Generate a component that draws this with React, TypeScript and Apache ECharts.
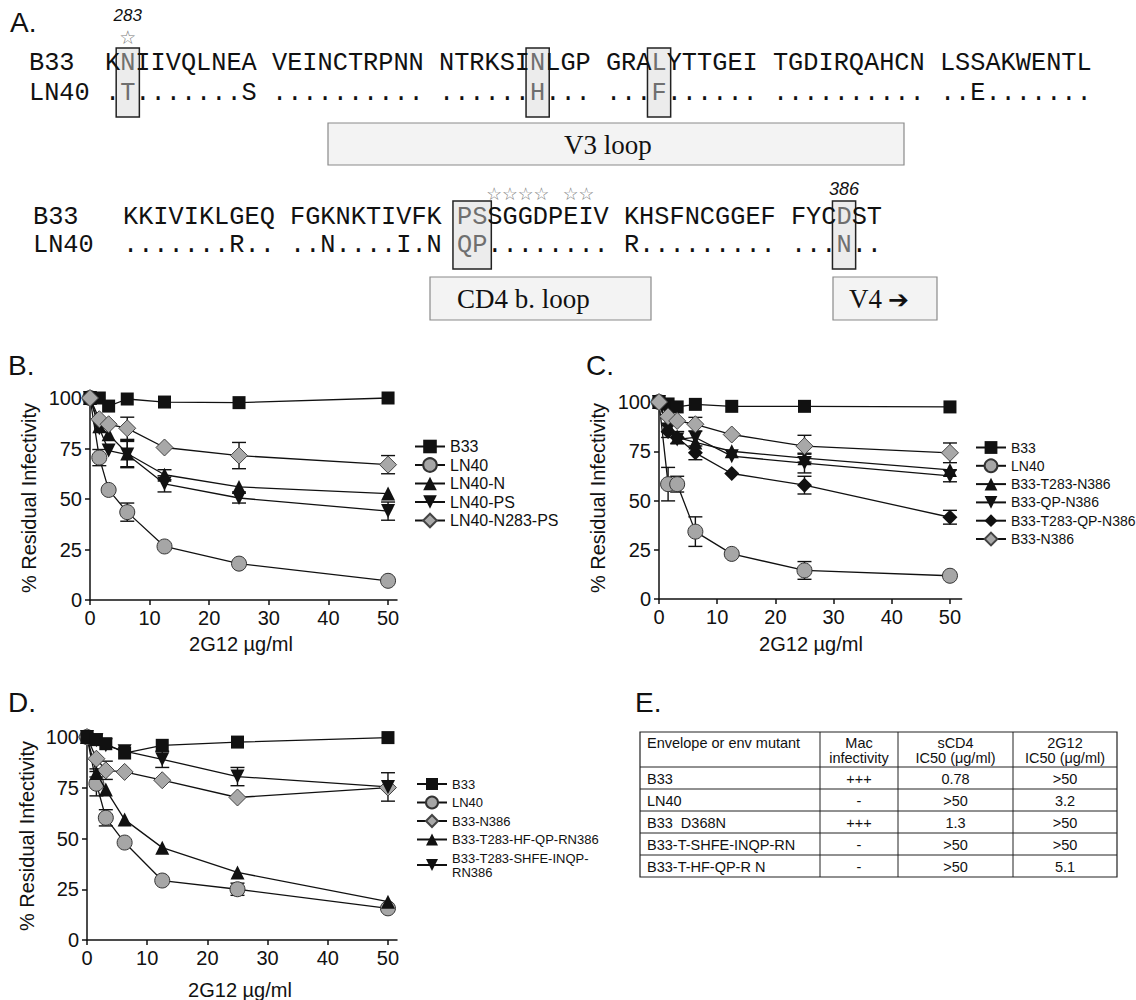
import React, { useEffect, useRef } from "react";
import * as echarts from "echarts";

// ---------------- data ----------------
const conc = [0, 1.5625, 3.125, 6.25, 12.5, 25, 50];
const xTicks = [0, 10, 20, 30, 40, 50];

// Panel B
const bNames = ["B33", "LN40", "LN40-N", "LN40-PS", "LN40-N283-PS"];
const bB33 = [100, 100, 96, 99.5, 98, 97.7, 100];
const bLN40 = [100, 70.5, 54.5, 43.5, 26.5, 18, 9.5];
const bLN40N = [100, 86, 82, 72.5, 62, 56, 52.7];
const bLN40PS = [100, 85, 74, 72, 57.5, 50.5, 44];
const bN283PS = [100, 89.5, 87, 85, 75.5, 71.5, 67];
const bErrLN40 = [0, 4, 0, 4.5, 0, 0, 0];
const bErrLN40N = [0, 0, 0, 6.5, 2.5, 0, 0];
const bErrLN40PS = [0, 0, 0, 6.5, 4, 2.5, 4.5];
const bErrN283PS = [0, 0, 0, 5.5, 0, 6.5, 4.5];

// Panel C
const cNames = ["B33", "LN40", "B33-T283-N386", "B33-QP-N386", "B33-T283-QP-N386", "B33-N386"];
const cB33 = [100, 99, 97.5, 98.8, 97.8, 97.8, 97.5];
const cLN40 = [100, 58.3, 58.3, 34.2, 22.9, 14.5, 11.8];
const cT283N386 = [100, 88, 82, 79.5, 75, 71.5, 65.5];
const cQPN386 = [100, 86, 81, 82, 72.5, 69, 62.5];
const cT283QPN386 = [100, 85, 82, 74.2, 63.7, 57.8, 41.5];
const cN386 = [100, 92.7, 90.4, 88.7, 83.5, 77.6, 74.2];
const cErrLN40 = [0, 8.5, 4, 7.5, 0, 4.5, 0];
const cErrT283N386 = [0, 0, 3, 0, 0, 2, 0];
const cErrQPN386 = [0, 0, 0, 0, 0, 5, 3];
const cErrT283QPN386 = [0, 3, 0, 3.5, 0, 4.5, 3.5];
const cErrN386 = [0, 0, 0, 3.5, 0, 5.5, 5];

// Panel D
const dNames = ["B33", "LN40", "B33-N386", "B33-T283-HF-QP-RN386", "B33-T283-SHFE-INQP-\nRN386"];
const dB33 = [100, 98.7, 96.7, 92.1, 95.9, 97.5, 99.7];
const dLN40 = [100, 77, 60.2, 48, 29.3, 25, 15.6];
const dN386 = [100, 89.3, 83.6, 82.8, 78.7, 70.2, 75.1];
const dHFQP = [100, 82.3, 74.1, 59.3, 45.5, 33.3, 18.9];
const dSHFE = [100, 98.4, 95.9, 93, 89, 80.5, 75.4];
const dErrLN40 = [0, 6, 4, 0, 0, 3, 0];
const dErrN386 = [0, 0, 4.5, 0, 0, 0, 0];
const dErrHFQP = [0, 2, 0, 0, 0, 0, 0];
const dErrSHFE = [0, 0, 0, 0, 4, 4.5, 7];

// Panel A sequences
const seqB33a = ["KNIIVQLNEA", "VEINCTRPNN", "NTRKSINLGP", "GRALYTTGEI", "TGDIRQAHCN", "LSSAKWENTL"];
const seqLN40a = [".T.......S", "..........", "......H...", "...F......", "..........", "..E......."];
const seqB33b = ["KKIVIKLGEQ", "FGKNKTIVFK", "PSSGGDPEIV", "KHSFNCGGEF", "FYCDST"];
const seqLN40b = [".......R..", "..N....I.N", "QP........", "R.........", "...N.."];
const boxesA = [[1, 1], [28, 28], [36, 36]];
const boxesB = [[22, 23], [47, 47]];
const starRunsB = [[24, 27], [29, 30]];

// Panel E table
const tHeader = ["Envelope or env mutant", "Mac\ninfectivity", "sCD4\nIC50 (μg/ml)", "2G12\nIC50 (μg/ml)"];
const tEnv = ["B33", "LN40", "B33  D368N", "B33-T-SHFE-INQP-RN", "B33-T-HF-QP-R N"];
const tMac = ["+++", "-", "+++", "-", "-"];
const tSCD4 = ["0.78", ">50", "1.3", ">50", ">50"];
const tG12 = [">50", "3.2", ">50", ">50", "5.1"];

// ---------------- styles ----------------
const SANS = "'Liberation Sans', Arial, Helvetica, sans-serif";
const MONO = "'Liberation Mono', 'Courier New', monospace";
const SERIF = "'Liberation Serif', 'Times New Roman', serif";
const DJV = "'DejaVu Sans', sans-serif";
const INK = "#111";

const MARK: Record<string, any> = {
  square: { symbol: "rect", size: 13, fill: "#111", border: "#111", bw: 0, rot: 0 },
  circle: { symbol: "circle", size: 15, fill: "#a6a6a6", border: "#333", bw: 1, rot: 0 },
  up: { symbol: "triangle", size: 14, fill: "#111", border: "#111", bw: 0, rot: 0 },
  down: { symbol: "triangle", size: 14, fill: "#111", border: "#111", bw: 0, rot: 180 },
  gdiam: { symbol: "diamond", size: 17, fill: "#a8a8a8", border: "#444", bw: 1, rot: 0 },
  bdiam: { symbol: "diamond", size: 15, fill: "#111", border: "#111", bw: 0, rot: 0 },
};

function lineSeries(name: string, vals: number[], gi: number, kind: string, z: number) {
  const m = MARK[kind];
  return {
    type: "line",
    name,
    xAxisIndex: gi,
    yAxisIndex: gi,
    data: conc.map((x, i) => [x, vals[i]]),
    symbol: m.symbol,
    symbolSize: m.size,
    symbolRotate: m.rot,
    showSymbol: true,
    clip: false,
    itemStyle: { color: m.fill, borderColor: m.border, borderWidth: m.bw },
    lineStyle: { color: INK, width: 1.3 },
    emphasis: { disabled: true },
    z,
  };
}

function errSeries(vals: number[], errs: number[], gi: number) {
  const data = conc
    .map((x, i) => [x, vals[i] - errs[i], vals[i] + errs[i]])
    .filter((_, i) => errs[i] > 0);
  return {
    type: "custom",
    xAxisIndex: gi,
    yAxisIndex: gi,
    silent: true,
    clip: false,
    z: 1,
    dimensions: ["x", "lo", "hi"],
    encode: { x: 0, y: [1, 2] },
    data,
    renderItem: (params: any, api: any) => {
      const x = api.value(0);
      const a = api.coord([x, api.value(1)]);
      const b = api.coord([x, api.value(2)]);
      const w = 7;
      const st = { stroke: INK, lineWidth: 1.4 };
      return {
        type: "group",
        children: [
          { type: "line", shape: { x1: a[0], y1: a[1], x2: b[0], y2: b[1] }, style: st },
          { type: "line", shape: { x1: a[0] - w, y1: a[1], x2: a[0] + w, y2: a[1] }, style: st },
          { type: "line", shape: { x1: b[0] - w, y1: b[1], x2: b[0] + w, y2: b[1] }, style: st },
        ],
      };
    },
  };
}

function T(x: number, y: number, text: string, o: any = {}) {
  const align = o.align || "left";
  const va = o.va || "middle";
  return {
    type: "text",
    x,
    y,
    rotation: o.rotation || 0,
    z: o.z || 10,
    silent: true,
    style: {
      text,
      fontSize: o.size || 20,
      fontFamily: o.family || SANS,
      fontStyle: o.italic ? "italic" : "normal",
      fontWeight: o.bold ? "bold" : "normal",
      fill: o.fill || INK,
      align,
      verticalAlign: va,
      textAlign: align,
      textVerticalAlign: va,
    },
  };
}

const CW = 15.18;
const MONO_SIZE = 25.3;

function seqText(row: string, x0: number, y: number, gray: number[]) {
  const els: any[] = [];
  let i = 0;
  while (i < row.length) {
    if (row[i] === " ") { i++; continue; }
    const isGray = gray.includes(i);
    let j = i + 1;
    if (!isGray) {
      while (j < row.length && row[j] !== " " && !gray.includes(j)) j++;
    }
    els.push(T(x0 + i * CW, y, row.slice(i, j), { family: MONO, size: MONO_SIZE, fill: isGray ? "#6f6f6f" : INK }));
    i = j;
  }
  return els;
}

function boxEls(boxes: number[][], x0: number, y0: number, y1: number) {
  return boxes.map(([a, b]) => ({
    type: "rect",
    z: 5,
    silent: true,
    shape: { x: x0 + a * CW - 4, y: y0, width: (b - a + 1) * CW + 8, height: y1 - y0 },
    style: { fill: "#ececec", stroke: "#222", lineWidth: 1.5 },
  }));
}

function grayIdx(boxes: number[][]) {
  const out: number[] = [];
  boxes.forEach(([a, b]) => { for (let k = a; k <= b; k++) out.push(k); });
  return out;
}

function labelBox(x: number, y: number, w: number, h: number) {
  return {
    type: "rect",
    z: 5,
    silent: true,
    shape: { x, y, width: w, height: h },
    style: { fill: "#f3f3f3", stroke: "#8a8a8a", lineWidth: 1.2 },
  };
}

function buildGraphic() {
  const g: any[] = [];
  // panel letters
  g.push(T(10, 22, "A.", { size: 28 }));
  g.push(T(8, 365, "B.", { size: 28 }));
  g.push(T(586, 365, "C.", { size: 28 }));
  g.push(T(8, 702, "D.", { size: 28 }));
  g.push(T(635, 702, "E.", { size: 28 }));

  // ---- Panel A ----
  const x1 = 105, x2 = 123;
  const rowA1 = seqB33a.join(" ");
  const rowA2 = seqLN40a.join(" ");
  const rowB1 = seqB33b.join(" ");
  const rowB2 = seqLN40b.join(" ");
  g.push(...boxEls(boxesA, x1, 48, 117));
  g.push(...boxEls(boxesB, x2, 201, 269));
  g.push(T(29, 63, "B33", { family: MONO, size: MONO_SIZE }));
  g.push(T(29, 93, "LN40", { family: MONO, size: MONO_SIZE }));
  g.push(...seqText(rowA1, x1, 63, grayIdx(boxesA)));
  g.push(...seqText(rowA2, x1, 93, grayIdx(boxesA)));
  g.push(T(33, 217, "B33", { family: MONO, size: MONO_SIZE }));
  g.push(T(33, 245, "LN40", { family: MONO, size: MONO_SIZE }));
  g.push(...seqText(rowB1, x2, 217, grayIdx(boxesB)));
  g.push(...seqText(rowB2, x2, 245, grayIdx(boxesB)));
  // annotations
  g.push(T(x1 + 1.5 * CW, 15, "283", { size: 17, italic: true, align: "center" }));
  g.push(T(x1 + 1.5 * CW, 37, "☆", { size: 19, family: DJV, fill: "#7a7a7a", align: "center" }));
  g.push(T(x2 + 47.5 * CW, 189, "386", { size: 18, italic: true, align: "center" }));
  starRunsB.forEach(([a, b]) =>
    g.push(
      T(x2 + ((a + b + 1) / 2) * CW, 194, "☆".repeat(b - a + 1), {
        size: 17.6,
        family: DJV,
        fill: "#7a7a7a",
        align: "center",
      })
    )
  );
  // region boxes
  g.push(labelBox(328, 123, 576, 42));
  g.push(T(564, 145, "V3 loop", { family: SERIF, size: 27 }));
  g.push(labelBox(430, 277, 221, 43));
  g.push(T(457, 299, "CD4 b. loop", { family: SERIF, size: 27 }));
  g.push(labelBox(833, 277, 104, 43));
  g.push(T(849, 299, "V4", { family: SERIF, size: 27 }));
  g.push(T(888, 299, "➔", { family: DJV, size: 25, bold: true }));

  // ---- axis titles ----
  g.push(T(241, 644, "2G12 µg/ml", { align: "center" }));
  g.push(T(811, 644, "2G12 µg/ml", { align: "center" }));
  g.push(T(240, 990, "2G12 µg/ml", { align: "center" }));
  g.push(T(29, 498, "% Residual Infectivity", { align: "center", rotation: Math.PI / 2 }));
  g.push(T(598, 498, "% Residual Infectivity", { align: "center", rotation: Math.PI / 2 }));
  g.push(T(27, 836, "% Residual Infectivity", { align: "center", rotation: Math.PI / 2 }));

  // ---- Panel E table ----
  const cols = [640, 820, 898, 1013, 1117];
  const top = 732, headBottom = 767, rowH = 22;
  const bottom = headBottom + rowH * tEnv.length;
  const ls = { stroke: "#222", lineWidth: 1 };
  g.push({ type: "rect", silent: true, shape: { x: cols[0], y: top, width: cols[4] - cols[0], height: bottom - top }, style: { fill: "#fff", stroke: "#222", lineWidth: 1.2 } });
  cols.slice(1, 4).forEach((cx) => g.push({ type: "line", silent: true, z: 6, shape: { x1: cx, y1: top, x2: cx, y2: bottom }, style: ls }));
  for (let r = 0; r < tEnv.length; r++) {
    const yy = headBottom + r * rowH;
    g.push({ type: "line", silent: true, z: 6, shape: { x1: cols[0], y1: yy, x2: cols[4], y2: yy }, style: ls });
  }
  const fs = 14.5;
  g.push(T(cols[0] + 7, 743, tHeader[0], { size: fs }));
  for (let c = 1; c < 4; c++) {
    const cx = (cols[c] + cols[c + 1]) / 2;
    const [l1, l2] = tHeader[c].split("\n");
    g.push(T(cx, 743, l1, { size: fs, align: "center" }));
    g.push(T(cx, 758, l2, { size: fs, align: "center" }));
  }
  for (let r = 0; r < tEnv.length; r++) {
    const cy = headBottom + r * rowH + rowH / 2 + 0.5;
    g.push(T(cols[0] + 7, cy, tEnv[r], { size: fs }));
    g.push(T((cols[1] + cols[2]) / 2, cy, tMac[r], { size: fs, align: "center" }));
    g.push(T((cols[2] + cols[3]) / 2, cy, tSCD4[r], { size: fs, align: "center" }));
    g.push(T((cols[3] + cols[4]) / 2, cy, tG12[r], { size: fs, align: "center" }));
  }
  return g;
}

function axes(gi: number, xmax: number) {
  const lineStyle = { color: INK, width: 1.5 };
  const label = { fontSize: 20, fontFamily: SANS, color: INK };
  return {
    x: {
      type: "value",
      gridIndex: gi,
      min: 0,
      max: xmax,
      interval: 10,
      axisLine: { show: true, onZero: false, lineStyle },
      axisTick: { show: true, length: 5, lineStyle, customValues: xTicks },
      axisLabel: { ...label, margin: 8, customValues: xTicks },
      splitLine: { show: false },
    },
    y: {
      type: "value",
      gridIndex: gi,
      min: 0,
      max: 100,
      interval: 25,
      axisLine: { show: true, onZero: false, lineStyle },
      axisTick: { show: true, length: 5, lineStyle },
      axisLabel: { ...label, margin: 8 },
      splitLine: { show: false },
    },
  };
}

function legendCfg(names: string[], left: number, top: number, size: number, gap: number, ih: number) {
  return {
    data: names,
    orient: "vertical",
    left,
    top,
    padding: 0,
    itemWidth: 30,
    itemHeight: ih,
    itemGap: gap,
    selectedMode: false,
    textStyle: { fontSize: size, fontFamily: SANS, color: INK, lineHeight: size + 1 },
  };
}

function buildOption() {
  const aB = axes(0, 51.5);
  const aC = axes(1, 52);
  const aD = axes(2, 51.5);
  return {
    animation: false,
    backgroundColor: "#fff",
    grid: [
      { left: 90, top: 398, width: 307, height: 202 },
      { left: 659, top: 402, width: 302.6, height: 197 },
      { left: 87, top: 737, width: 310, height: 203 },
    ],
    xAxis: [aB.x, aC.x, aD.x],
    yAxis: [aB.y, aC.y, aD.y],
    legend: [
      legendCfg(bNames, 414, 438, 16, 1.5, 17),
      legendCfg(cNames, 975, 440, 14, 3.3, 16),
      legendCfg(dNames, 416, 777, 13, 4.5, 15),
    ],
    series: [
      errSeries(bLN40, bErrLN40, 0),
      errSeries(bLN40N, bErrLN40N, 0),
      errSeries(bLN40PS, bErrLN40PS, 0),
      errSeries(bN283PS, bErrN283PS, 0),
      lineSeries("LN40", bLN40, 0, "circle", 2),
      lineSeries("LN40-N", bLN40N, 0, "up", 3),
      lineSeries("LN40-PS", bLN40PS, 0, "down", 3),
      lineSeries("B33", bB33, 0, "square", 4),
      lineSeries("LN40-N283-PS", bN283PS, 0, "gdiam", 5),

      errSeries(cLN40, cErrLN40, 1),
      errSeries(cT283N386, cErrT283N386, 1),
      errSeries(cQPN386, cErrQPN386, 1),
      errSeries(cT283QPN386, cErrT283QPN386, 1),
      errSeries(cN386, cErrN386, 1),
      lineSeries("LN40", cLN40, 1, "circle", 2),
      lineSeries("B33-T283-QP-N386", cT283QPN386, 1, "bdiam", 3),
      lineSeries("B33-T283-N386", cT283N386, 1, "up", 3),
      lineSeries("B33-QP-N386", cQPN386, 1, "down", 3),
      lineSeries("B33", cB33, 1, "square", 4),
      lineSeries("B33-N386", cN386, 1, "gdiam", 5),

      errSeries(dLN40, dErrLN40, 2),
      errSeries(dN386, dErrN386, 2),
      errSeries(dHFQP, dErrHFQP, 2),
      errSeries(dSHFE, dErrSHFE, 2),
      lineSeries("LN40", dLN40, 2, "circle", 2),
      lineSeries("B33-N386", dN386, 2, "gdiam", 3),
      lineSeries("B33-T283-HF-QP-RN386", dHFQP, 2, "up", 3),
      lineSeries("B33-T283-SHFE-INQP-\nRN386", dSHFE, 2, "down", 3),
      lineSeries("B33", dB33, 2, "square", 4),
    ],
    graphic: buildGraphic(),
  };
}

export default function App() {
  const ref = useRef<HTMLDivElement>(null);
  useEffect(() => {
    const chart = echarts.init(ref.current as HTMLDivElement, null, { renderer: "svg" });
    chart.setOption(buildOption() as any);
    return () => chart.dispose();
  }, []);
  return (
    <div
      ref={ref}
      style={{ position: "absolute", left: 0, top: 0, width: 1136, height: 1000, background: "#fff" }}
    />
  );
}
